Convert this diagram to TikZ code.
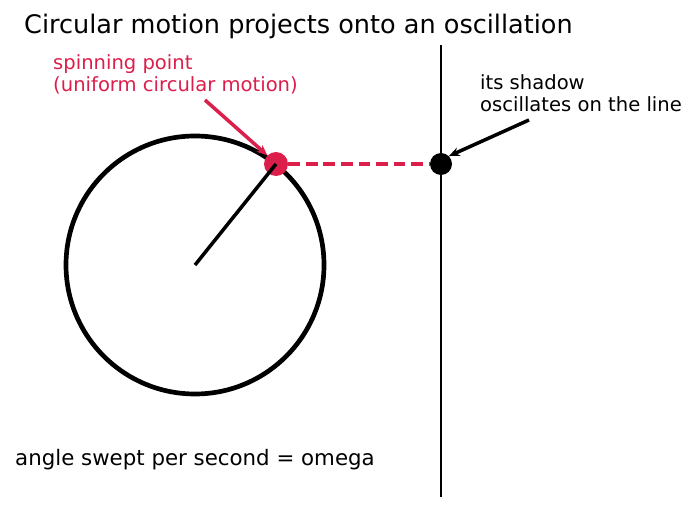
\documentclass[tikz,border=0pt]{standalone}
\usepackage{fontspec}
\setmainfont{DejaVu Sans}
\usetikzlibrary{arrows.meta,positioning,calc}
\definecolor{spinred}{RGB}{220,30,75}

\begin{document}
\begin{tikzpicture}[x=0.03cm,y=-0.03cm,
  lbl/.style={draw=none,inner sep=0pt,anchor=west,align=left,font=\fontsize{16.7}{18.8}\selectfont},
  pointer/.style={line width=3pt,-{Stealth[length=9pt,width=7.5pt]}}]
\useasboundingbox (0,0) rectangle (694,512);

% Title
\node[lbl,font=\fontsize{21.8}{24}\selectfont] (title) at (24,26) {Circular motion projects onto an oscillation};

% Circle and radius
\coordinate (centre) at (195,265);
\draw[line width=4pt] (centre) circle[radius=129];
\node[circle,fill=spinred,minimum size=24*0.03cm,inner sep=0pt] (spin) at (276,164) {};
\draw[line width=3pt] (centre) -- (spin.center);

% Vertical line and shadow
\coordinate (linetop) at (441,45);
\coordinate (linebot) at (441,497);
\draw[line width=2.1pt] (linetop) -- (linebot);
\node[circle,fill=black,minimum size=22*0.03cm,inner sep=0pt] (shadow) at (441,164) {};

% Projection
\draw[spinred,line width=3pt,dash pattern=on 10pt off 5pt] (spin.east) -- (shadow.west);

% Labels
\node[lbl,text=spinred] (spinlbl) at (53,74) {spinning point\\(uniform circular motion)};
\node[lbl] (shadowlbl) at (480,93) {its shadow\\oscillates on the line};
\node[lbl,font=\fontsize{18.2}{20}\selectfont] (omega) at (15,460) {angle swept per second = omega};

% Pointers
\coordinate (spintail) at (205,100);
\coordinate (shadowtail) at (529,120);
\draw[pointer,spinred] (spintail) -- (spin.north west);
\draw[pointer] (shadowtail) -- (shadow.north east);

\end{tikzpicture}
\end{document}
